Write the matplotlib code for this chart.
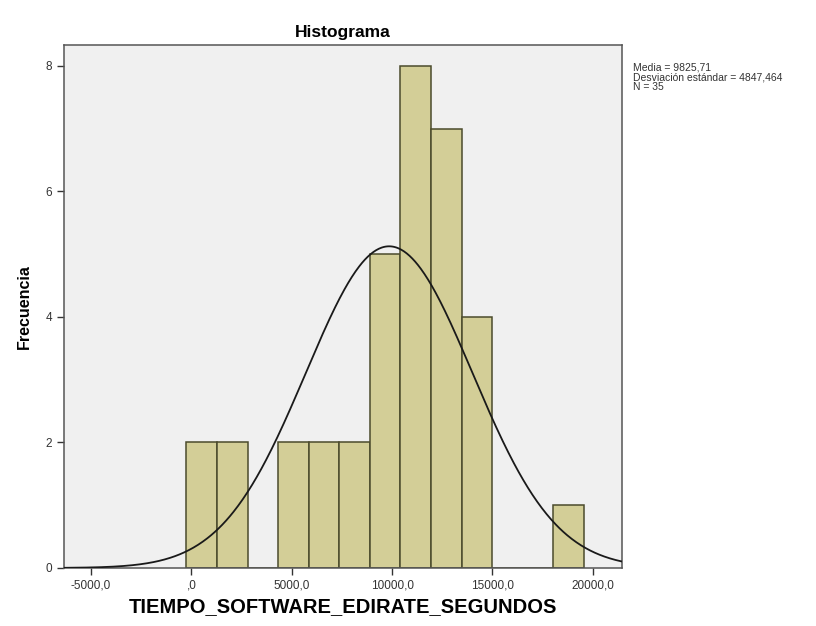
import numpy as np
import matplotlib.pyplot as plt

counts = [2, 2, 0, 2, 2, 2, 5, 8, 7, 4, 0, 0, 1]
bin_start = -250.0
bin_width = 1523.0
n_total = 35

# curva normal tal como aparece dibujada
curve_mean = 9850.0
curve_sd = 4150.0

xticks = [-5000, 0, 5000, 10000, 15000, 20000]
xtick_labels = ["-5000,0", ",0", "5000,0", "10000,0", "15000,0", "20000,0"]
yticks = [0, 2, 4, 6, 8]

stats_text = "Media = 9825,71\nDesviación estándar = 4847,464\nN = 35"

plt.rcParams['font.family'] = ['Liberation Sans', 'DejaVu Sans']

fig = plt.figure(figsize=(8.16, 6.26), dpi=100)
ax = fig.add_axes([0.0784, 0.0927, 0.6838, 0.8353])
ax.set_facecolor('#f0f0f0')

edges = bin_start + bin_width * np.arange(len(counts) + 1)
ax.bar(edges[:-1], counts, width=bin_width, align='edge',
       color='#d3ce97', edgecolor='#4b4b2c', linewidth=1.1, zorder=2)

xs = np.linspace(-6350, 21450, 600)
ys = n_total * bin_width * np.exp(-0.5 * ((xs - curve_mean) / curve_sd) ** 2) / (curve_sd * np.sqrt(2 * np.pi))
ax.plot(xs, ys, color='#1a1a1a', linewidth=1.3, zorder=3)

ax.set_xlim(-6350, 21450)
ax.set_ylim(0, 8.33)
ax.set_xticks(xticks)
ax.set_xticklabels(xtick_labels)
ax.set_yticks(yticks)
ax.tick_params(axis='both', labelsize=8.5, colors='#333333', length=5, width=1)
for s in ax.spines.values():
    s.set_color('#555555')
    s.set_linewidth(1.1)

ax.set_xlabel("TIEMPO_SOFTWARE_EDIRATE_SEGUNDOS", fontsize=14.5, fontweight='bold', labelpad=4)
ax.set_ylabel("Frecuencia", fontsize=11.5, fontweight='bold', labelpad=10)
ax.set_title("Histograma", fontsize=12.5, fontweight='bold', pad=6)

fig.text(0.776, 0.9, stats_text, fontsize=7.5, va='top', ha='left', color='#333333', linespacing=0.95)

fig.savefig("out.png", dpi=100)
